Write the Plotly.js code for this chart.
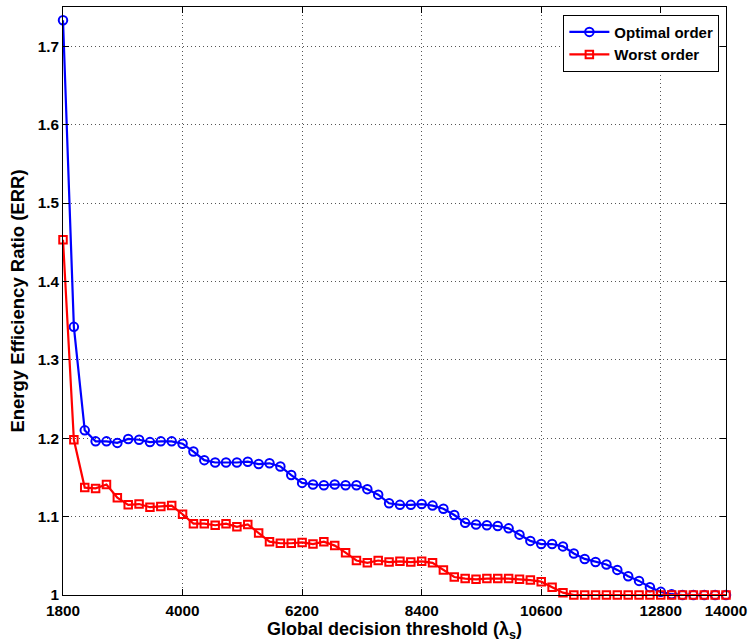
<!DOCTYPE html>
<html>
<head>
<meta charset="utf-8">
<script src="https://cdn.plot.ly/plotly-3.0.1.min.js"></script>
<style>
html,body{margin:0;padding:0;background:#fff;}
#chart{width:748px;height:642px;}
</style>
</head>
<body>
<div id="chart"></div>
<script>
// Global decision threshold values
var thresholds = [];
for (var t = 1800; t <= 14000; t += 200) thresholds.push(t);

var optimalOrder = [1.733, 1.342, 1.210, 1.196, 1.196, 1.194, 1.199, 1.198, 1.195, 1.196,
  1.196, 1.193, 1.183, 1.172, 1.169, 1.169, 1.169, 1.170, 1.167, 1.168,
  1.164, 1.153, 1.143, 1.141, 1.140, 1.141, 1.140, 1.140, 1.135, 1.128,
  1.117, 1.115, 1.115, 1.116, 1.114, 1.110, 1.102, 1.092, 1.090, 1.089,
  1.088, 1.085, 1.077, 1.069, 1.065, 1.065, 1.062, 1.053, 1.046, 1.042,
  1.039, 1.032, 1.024, 1.018, 1.010, 1.004, 1.001, 1.000, 1.000, 1.000,
  1.000, 1.000];

var worstOrder = [1.453, 1.198, 1.137, 1.136, 1.141, 1.124, 1.115, 1.116, 1.112, 1.113,
  1.114, 1.103, 1.091, 1.091, 1.089, 1.091, 1.087, 1.090, 1.079, 1.068,
  1.066, 1.066, 1.067, 1.065, 1.068, 1.063, 1.054, 1.044, 1.041, 1.044,
  1.042, 1.043, 1.042, 1.043, 1.041, 1.032, 1.023, 1.021, 1.020, 1.021,
  1.021, 1.021, 1.020, 1.019, 1.017, 1.010, 1.003, 1.000, 1.000, 1.000,
  1.000, 1.000, 1.000, 1.000, 1.000, 1.000, 1.000, 1.000, 1.000, 1.000,
  1.000, 1.000];

var xTickVals = [1800, 4000, 6200, 8400, 10600, 12800, 14000];
var xTickText = ['1800', '4000', '6200', '8400', '10600', '12800', '14000'];
var yTickVals = [1, 1.1, 1.2, 1.3, 1.4, 1.5, 1.6, 1.7];
var yTickText = ['1', '1.1', '1.2', '1.3', '1.4', '1.5', '1.6', '1.7'];

var FONT = 'Liberation Sans, Arial, Helvetica, sans-serif';

var traces = [
  {
    x: thresholds, y: optimalOrder, name: 'Optimal order',
    type: 'scatter', mode: 'lines+markers', cliponaxis: false,
    line: {color: '#0000ff', width: 2.2},
    marker: {symbol: 'circle-open', size: 8.5, color: '#0000ff', line: {width: 2, color: '#0000ff'}}
  },
  {
    x: thresholds, y: worstOrder, name: 'Worst order',
    type: 'scatter', mode: 'lines+markers', cliponaxis: false,
    line: {color: '#ff0000', width: 2.2},
    marker: {symbol: 'square-open', size: 7.5, color: '#ff0000', line: {width: 2, color: '#ff0000'}}
  }
];

var axisCommon = {
  showline: true, linecolor: '#000', linewidth: 1,
  mirror: 'ticks', ticks: 'inside', ticklen: 6, tickcolor: '#000', tickwidth: 1,
  showgrid: true, gridcolor: '#555', gridwidth: 1, griddash: '1px,3px',
  zeroline: false,
  tickfont: {family: FONT, size: 15.3, color: '#000', weight: 'bold'}
};

var layout = {
  width: 748, height: 642,
  margin: {l: 63, r: 22, t: 7, b: 47},
  paper_bgcolor: '#fff', plot_bgcolor: '#fff',
  showlegend: true,
  font: {family: FONT, color: '#000'},
  xaxis: Object.assign({}, axisCommon, {
    range: [1800, 14000], tickmode: 'array', tickvals: xTickVals, ticktext: xTickText,
    ticklabelstandoff: 2,
    title: {text: 'Global decision threshold (λ<sub>s</sub>)', standoff: 5,
      font: {family: FONT, size: 18, color: '#000', weight: 'bold'}}
  }),
  yaxis: Object.assign({}, axisCommon, {
    range: [1, 1.75], tickmode: 'array', tickvals: yTickVals, ticktext: yTickText,
    title: {text: 'Energy Efficiency Ratio (ERR)', standoff: 8,
      font: {family: FONT, size: 18.5, color: '#000', weight: 'bold'}}
  }),
  legend: {
    x: 0.99, xanchor: 'right', y: 0.987, yanchor: 'top',
    bgcolor: '#fff', bordercolor: '#000', borderwidth: 1,
    itemwidth: 40,
    font: {family: FONT, size: 15, color: '#000', weight: 'bold'},
    tracegroupgap: 0
  }
};

Plotly.newPlot('chart', traces, layout, {displayModeBar: false, staticPlot: true});
</script>
</body>
</html>
